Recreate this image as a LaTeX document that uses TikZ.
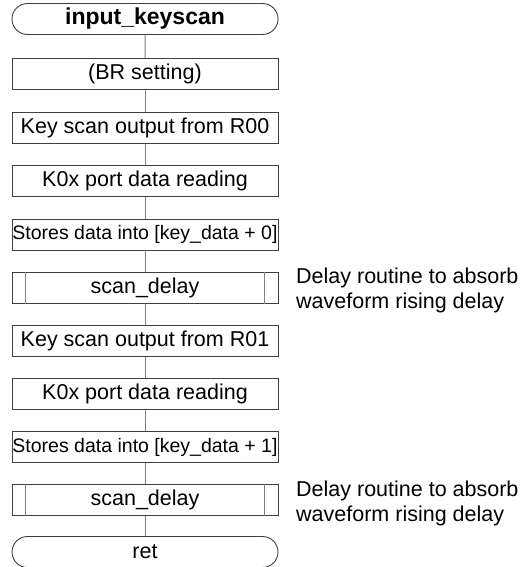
\documentclass[tikz,border=0pt]{standalone}
\usepackage{fontspec}
\setmainfont{Liberation Sans}
\usetikzlibrary{shapes.misc}
\begin{document}
\begin{tikzpicture}[x=1pt,y=-1pt,
  base/.style={draw=black!75, line width=0.9pt, minimum width=266pt, minimum height=31pt, inner sep=0pt, font=\fontsize{21.5}{24}\selectfont},
  procbox/.style={base, rectangle},
  termbox/.style={base, rounded rectangle, minimum height=31pt},
  link/.style={draw=black!50, line width=1pt},
  note/.style={align=left, anchor=west, inner sep=0pt, font=\fontsize{21.5}{25}\selectfont}]
\useasboundingbox (0,0) rectangle (532,567);
\node[termbox, font=\fontsize{23}{26}\selectfont\bfseries] (t1) at (145,19) {input\_keyscan};
\node[procbox] (b1) at (145,74) {(BR setting)};
\node[procbox] (b2) at (145,128) {Key scan output from R00};
\node[procbox] (b3) at (145,181) {K0x port data reading};
\node[procbox, font=\fontsize{19.5}{22}\selectfont] (b4) at (145,234.5) {Stores data into [key\_data + 0]};
\node[procbox] (b5) at (145,288) {scan\_delay};
\node[procbox] (b6) at (145,341) {Key scan output from R01};
\node[procbox] (b7) at (145,394) {K0x port data reading};
\node[procbox, font=\fontsize{19.5}{22}\selectfont] (b8) at (145,447) {Stores data into [key\_data + 1]};
\node[procbox] (b9) at (145,500) {scan\_delay};
\node[termbox] (t2) at (145,552) {ret};
\foreach \n in {b5,b9}{
  \draw[link] ([xshift=14pt]\n.north west) -- ([xshift=14pt]\n.south west);
  \draw[link] ([xshift=-14pt]\n.north east) -- ([xshift=-14pt]\n.south east);
}
\draw[link] (t1) -- (b1);
\draw[link] (b1) -- (b2);
\draw[link] (b2) -- (b3);
\draw[link] (b3) -- (b4);
\draw[link] (b4) -- (b5);
\draw[link] (b5) -- (b6);
\draw[link] (b6) -- (b7);
\draw[link] (b7) -- (b8);
\draw[link] (b8) -- (b9);
\draw[link] (b9) -- (t2);
\node[note] (n1) at (296,290) {Delay routine to absorb\\waveform rising delay};
\node[note] (n2) at (296,503) {Delay routine to absorb\\waveform rising delay};
\end{tikzpicture}
\end{document}
